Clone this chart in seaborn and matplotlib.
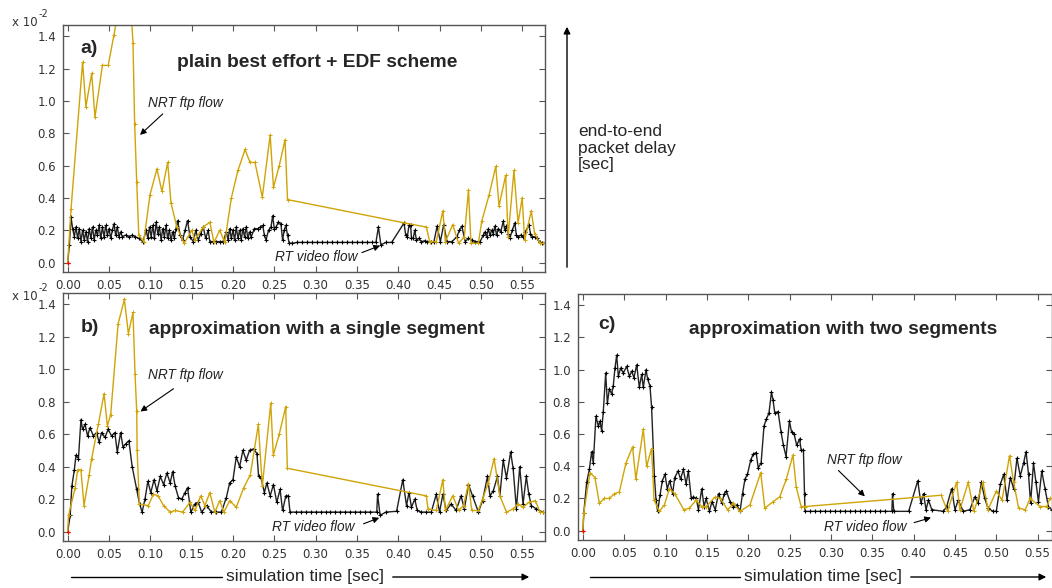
import matplotlib
matplotlib.use('Agg')
import matplotlib.pyplot as plt
from matplotlib.patches import FancyArrowPatch
from matplotlib.lines import Line2D
import seaborn as sns

# delay values are in units of 1e-2 sec (axis shows "x 10^-2")
xticks = [0.00, 0.05, 0.10, 0.15, 0.20, 0.25, 0.30, 0.35, 0.40, 0.45, 0.50, 0.55]
yticks = [0.0, 0.2, 0.4, 0.6, 0.8, 1.0, 1.2, 1.4]

titles = ['plain best effort + EDF scheme',
          'approximation with a single segment',
          'approximation with two segments']
panel_tags = ['a)', 'b)', 'c)']

# ---- panel a: plain best effort + EDF
a_nrt_t = [0.000, 0.004, 0.018, 0.022, 0.029, 0.033, 0.042, 0.049, 0.056, 0.062, 0.070, 0.076,
           0.079, 0.081, 0.0835, 0.086, 0.092, 0.0996, 0.108, 0.114, 0.121, 0.125, 0.132, 0.141,
           0.150, 0.154, 0.164, 0.172, 0.177, 0.184, 0.190, 0.198, 0.206, 0.2146, 0.2206, 0.2266,
           0.2355, 0.245, 0.249, 0.256, 0.263, 0.266, 0.408, 0.434, 0.438, 0.446, 0.454, 0.457,
           0.466, 0.473, 0.480, 0.485, 0.488, 0.497, 0.501, 0.510, 0.518, 0.522, 0.530, 0.533,
           0.540, 0.545, 0.550, 0.553, 0.561, 0.565, 0.5716, 0.575]
a_nrt_v = [0.00, 0.33, 1.24, 0.965, 1.17, 0.90, 1.22, 1.22, 1.41, 1.58, 1.70, 1.62,
           1.36, 0.86, 0.50, 0.17, 0.13, 0.42, 0.58, 0.44, 0.62, 0.37, 0.22, 0.12,
           0.20, 0.14, 0.22, 0.25, 0.125, 0.20, 0.125, 0.40, 0.57, 0.70, 0.62, 0.62,
           0.405, 0.79, 0.465, 0.60, 0.76, 0.39, 0.245, 0.22, 0.13, 0.13, 0.32, 0.13,
           0.235, 0.12, 0.16, 0.45, 0.12, 0.12, 0.255, 0.42, 0.595, 0.35, 0.54, 0.16,
           0.57, 0.245, 0.40, 0.14, 0.32, 0.18, 0.12, 0.12]

a_rt_t = [0.000, 0.002, 0.004, 0.006, 0.008, 0.010, 0.012, 0.014, 0.016, 0.018, 0.020, 0.022,
          0.024, 0.026, 0.028, 0.030, 0.032, 0.034, 0.036, 0.038, 0.040, 0.042, 0.044, 0.046,
          0.048, 0.050, 0.052, 0.054, 0.056, 0.058, 0.060, 0.062, 0.064, 0.066, 0.070, 0.074,
          0.078, 0.082, 0.086, 0.091, 0.095, 0.097, 0.099, 0.101, 0.103, 0.105, 0.107, 0.109,
          0.111, 0.113, 0.115, 0.117, 0.119, 0.121, 0.123, 0.125, 0.127, 0.129, 0.131, 0.133,
          0.136, 0.139, 0.142, 0.145, 0.148, 0.152, 0.155, 0.158, 0.161, 0.164, 0.167, 0.170,
          0.172, 0.176, 0.180, 0.184, 0.188, 0.192, 0.194, 0.196, 0.198, 0.200, 0.202, 0.204,
          0.206, 0.208, 0.210, 0.212, 0.214, 0.216, 0.218, 0.220, 0.222, 0.226, 0.230, 0.233,
          0.236, 0.238, 0.240, 0.243, 0.246, 0.248, 0.250, 0.252, 0.255, 0.258, 0.260, 0.262,
          0.264, 0.266, 0.268, 0.272, 0.278, 0.284, 0.290, 0.296, 0.302, 0.308, 0.314, 0.320,
          0.326, 0.332, 0.338, 0.344, 0.350, 0.356, 0.362, 0.368, 0.373, 0.376, 0.379, 0.385,
          0.392, 0.407, 0.409, 0.411, 0.413, 0.415, 0.416, 0.418, 0.420, 0.422, 0.425, 0.428,
          0.432, 0.435, 0.440, 0.443, 0.447, 0.451, 0.455, 0.459, 0.465, 0.471, 0.474, 0.477,
          0.481, 0.485, 0.489, 0.493, 0.499, 0.503, 0.505, 0.507, 0.509, 0.511, 0.513, 0.515,
          0.517, 0.519, 0.521, 0.524, 0.527, 0.529, 0.531, 0.533, 0.535, 0.538, 0.541, 0.543,
          0.545, 0.548, 0.551, 0.554, 0.558, 0.560, 0.562, 0.565, 0.568, 0.571, 0.574, 0.577]
a_rt_v = [0.00, 0.11, 0.28, 0.21, 0.16, 0.22, 0.15, 0.21, 0.13, 0.20, 0.14, 0.19,
          0.13, 0.21, 0.15, 0.22, 0.14, 0.20, 0.17, 0.23, 0.15, 0.22, 0.16, 0.23,
          0.17, 0.21, 0.15, 0.20, 0.24, 0.17, 0.22, 0.16, 0.19, 0.16, 0.17, 0.16,
          0.17, 0.16, 0.15, 0.13, 0.20, 0.15, 0.22, 0.16, 0.23, 0.15, 0.25, 0.18,
          0.22, 0.14, 0.21, 0.16, 0.23, 0.15, 0.20, 0.14, 0.19, 0.15, 0.21, 0.26,
          0.17, 0.14, 0.20, 0.26, 0.16, 0.13, 0.20, 0.14, 0.18, 0.22, 0.15, 0.20,
          0.13, 0.13, 0.13, 0.13, 0.13, 0.19, 0.14, 0.21, 0.15, 0.20, 0.14, 0.22,
          0.15, 0.20, 0.14, 0.21, 0.16, 0.22, 0.15, 0.19, 0.16, 0.21, 0.21, 0.22,
          0.23, 0.17, 0.14, 0.20, 0.22, 0.29, 0.21, 0.22, 0.25, 0.24, 0.14, 0.20,
          0.23, 0.17, 0.12, 0.12, 0.125, 0.125, 0.125, 0.125, 0.125, 0.125, 0.125, 0.125,
          0.125, 0.125, 0.125, 0.125, 0.125, 0.125, 0.125, 0.125, 0.125, 0.22, 0.11, 0.125,
          0.125, 0.245, 0.17, 0.16, 0.23, 0.23, 0.15, 0.15, 0.20, 0.14, 0.15, 0.13,
          0.135, 0.13, 0.125, 0.125, 0.225, 0.13, 0.235, 0.13, 0.13, 0.16, 0.20, 0.225,
          0.13, 0.15, 0.14, 0.13, 0.13, 0.17, 0.19, 0.16, 0.21, 0.17, 0.20, 0.18,
          0.225, 0.17, 0.21, 0.19, 0.255, 0.20, 0.225, 0.18, 0.15, 0.20, 0.245, 0.17,
          0.16, 0.17, 0.16, 0.19, 0.235, 0.18, 0.16, 0.16, 0.15, 0.13, 0.12, 0.12]

# ---- panel b: single segment approximation
b_nrt_t = [0.000, 0.001, 0.009, 0.012, 0.016, 0.0197, 0.026, 0.029, 0.037, 0.044, 0.048, 0.052,
           0.061, 0.0686, 0.0734, 0.079, 0.0815, 0.0835, 0.084, 0.0867, 0.0976, 0.1036, 0.1094,
           0.116, 0.124, 0.130, 0.139, 0.148, 0.154, 0.161, 0.166, 0.172, 0.178, 0.184, 0.189,
           0.196, 0.204, 0.213, 0.221, 0.2307, 0.2355, 0.2457, 0.2488, 0.256, 0.2638, 0.2658,
           0.434, 0.436, 0.446, 0.454, 0.457, 0.466, 0.473, 0.479, 0.485, 0.489, 0.497, 0.502,
           0.509, 0.516, 0.523, 0.531, 0.539, 0.545, 0.551, 0.558, 0.566, 0.5716, 0.575]
b_nrt_v = [0.00, 0.10, 0.27, 0.38, 0.38, 0.16, 0.35, 0.45, 0.66, 0.85, 0.65, 0.72,
           1.28, 1.43, 1.22, 1.35, 0.97, 0.74, 0.50, 0.17, 0.16, 0.23, 0.22,
           0.16, 0.12, 0.13, 0.12, 0.18, 0.13, 0.22, 0.16, 0.24, 0.12, 0.19, 0.12,
           0.19, 0.15, 0.27, 0.35, 0.66, 0.28, 0.79, 0.47, 0.60, 0.77, 0.39,
           0.22, 0.14, 0.13, 0.32, 0.13, 0.22, 0.13, 0.16, 0.295, 0.13, 0.13, 0.20,
           0.30, 0.45, 0.22, 0.12, 0.14, 0.17, 0.15, 0.18, 0.19, 0.12, 0.12]

b_rt_t = [0.000, 0.003, 0.005, 0.008, 0.010, 0.013, 0.016, 0.018, 0.021, 0.024, 0.027, 0.031,
          0.035, 0.038, 0.041, 0.045, 0.049, 0.053, 0.057, 0.060, 0.064, 0.067, 0.070, 0.074,
          0.078, 0.0835, 0.087, 0.090, 0.0935, 0.097, 0.1005, 0.1045, 0.108, 0.112, 0.116, 0.120,
          0.124, 0.127, 0.130, 0.134, 0.138, 0.142, 0.145, 0.149, 0.154, 0.158, 0.162, 0.168,
          0.174, 0.180, 0.186, 0.192, 0.196, 0.200, 0.204, 0.208, 0.212, 0.216, 0.220, 0.225,
          0.229, 0.231, 0.234, 0.238, 0.241, 0.245, 0.249, 0.253, 0.257, 0.260, 0.264, 0.267,
          0.269, 0.276, 0.282, 0.288, 0.294, 0.300, 0.306, 0.312, 0.318, 0.324, 0.330, 0.336,
          0.342, 0.348, 0.354, 0.360, 0.366, 0.374, 0.375, 0.378, 0.385, 0.398, 0.4055, 0.410,
          0.413, 0.416, 0.420, 0.423, 0.428, 0.434, 0.440, 0.446, 0.450, 0.454, 0.458, 0.464,
          0.470, 0.476, 0.480, 0.485, 0.490, 0.497, 0.502, 0.508, 0.511, 0.515, 0.520, 0.523,
          0.527, 0.531, 0.536, 0.539, 0.543, 0.547, 0.551, 0.555, 0.558, 0.561, 0.567, 0.575]
b_rt_v = [0.00, 0.10, 0.28, 0.38, 0.47, 0.45, 0.69, 0.63, 0.66, 0.59, 0.64, 0.59,
          0.61, 0.55, 0.61, 0.58, 0.63, 0.59, 0.61, 0.49, 0.61, 0.52, 0.54, 0.56,
          0.40, 0.26, 0.17, 0.12, 0.20, 0.31, 0.24, 0.32, 0.25, 0.34, 0.29, 0.36,
          0.30, 0.37, 0.28, 0.21, 0.20, 0.24, 0.27, 0.12, 0.17, 0.18, 0.12, 0.16,
          0.12, 0.12, 0.12, 0.21, 0.30, 0.32, 0.46, 0.40, 0.50, 0.44, 0.50, 0.51,
          0.48, 0.34, 0.33, 0.24, 0.30, 0.22, 0.29, 0.18, 0.26, 0.13, 0.22, 0.22,
          0.12, 0.12, 0.12, 0.12, 0.12, 0.12, 0.12, 0.12, 0.12, 0.12, 0.12, 0.12,
          0.12, 0.12, 0.12, 0.12, 0.12, 0.12, 0.23, 0.10, 0.12, 0.125, 0.32, 0.16,
          0.24, 0.15, 0.20, 0.13, 0.12, 0.12, 0.12, 0.23, 0.12, 0.23, 0.13, 0.17,
          0.13, 0.22, 0.14, 0.29, 0.22, 0.12, 0.19, 0.34, 0.22, 0.25, 0.34, 0.22,
          0.44, 0.33, 0.49, 0.39, 0.14, 0.40, 0.17, 0.34, 0.23, 0.16, 0.14, 0.12]

# ---- panel c: two segment approximation
c_nrt_t = [0.000, 0.001, 0.0085, 0.0145, 0.0198, 0.026, 0.032, 0.038, 0.044, 0.052, 0.060, 0.064,
           0.073, 0.077, 0.083, 0.086, 0.0924, 0.0985, 0.1045, 0.111, 0.122, 0.1287, 0.137,
           0.1437, 0.149, 0.160, 0.166, 0.175, 0.182, 0.190, 0.202, 0.215, 0.220, 0.230, 0.238,
           0.246, 0.254, 0.258, 0.264, 0.269, 0.4334, 0.441, 0.452, 0.456, 0.466, 0.473, 0.484,
           0.490, 0.500, 0.507, 0.516, 0.521, 0.527, 0.535, 0.541, 0.553, 0.561, 0.565]
c_nrt_v = [0.00, 0.11, 0.36, 0.33, 0.17, 0.20, 0.20, 0.23, 0.24, 0.42, 0.52, 0.32,
           0.63, 0.40, 0.51, 0.19, 0.12, 0.16, 0.26, 0.23, 0.13, 0.14, 0.19,
           0.15, 0.15, 0.21, 0.20, 0.13, 0.17, 0.12, 0.16, 0.36, 0.14, 0.18, 0.21,
           0.32, 0.47, 0.27, 0.15, 0.15, 0.22, 0.12, 0.30, 0.13, 0.30, 0.12, 0.30,
           0.13, 0.245, 0.19, 0.465, 0.30, 0.14, 0.13, 0.20, 0.15, 0.15, 0.20]

c_rt_t = [0.000, 0.001, 0.0045, 0.0077, 0.0105, 0.0125, 0.0157, 0.0186, 0.0206, 0.0226, 0.0246,
          0.0275, 0.0295, 0.0319, 0.0347, 0.0367, 0.0387, 0.0408, 0.0428, 0.0456, 0.0488, 0.0529,
          0.0561, 0.059, 0.0617, 0.065, 0.0682, 0.071, 0.073, 0.0763, 0.0783, 0.081, 0.083,
          0.0864, 0.0884, 0.0904, 0.0932, 0.096, 0.0992, 0.102, 0.105, 0.1085, 0.111, 0.115,
          0.118, 0.1215, 0.1247, 0.1275, 0.131, 0.1335, 0.137, 0.1397, 0.1437, 0.1465, 0.149,
          0.153, 0.156, 0.160, 0.164, 0.168, 0.171, 0.1735, 0.178, 0.182, 0.186, 0.190, 0.193,
          0.196, 0.199, 0.203, 0.206, 0.2095, 0.212, 0.2155, 0.219, 0.222, 0.225, 0.228, 0.230,
          0.232, 0.236, 0.2397, 0.2425, 0.2457, 0.2497, 0.2525, 0.2554, 0.2586, 0.262, 0.264,
          0.2667, 0.268, 0.2687, 0.275, 0.281, 0.287, 0.293, 0.299, 0.305, 0.311, 0.317, 0.323,
          0.329, 0.335, 0.341, 0.347, 0.353, 0.359, 0.365, 0.3737, 0.3745, 0.376, 0.394, 0.405,
          0.4088, 0.412, 0.415, 0.418, 0.422, 0.436, 0.440, 0.446, 0.450, 0.454, 0.460, 0.468,
          0.474, 0.478, 0.482, 0.486, 0.490, 0.496, 0.500, 0.505, 0.509, 0.513, 0.517, 0.521,
          0.525, 0.529, 0.533, 0.536, 0.539, 0.5415, 0.545, 0.548, 0.551, 0.555, 0.559, 0.563,
          0.567]
c_rt_v = [0.00, 0.11, 0.30, 0.38, 0.49, 0.42, 0.71, 0.65, 0.68, 0.62, 0.74,
          0.98, 0.79, 0.88, 0.85, 0.90, 1.01, 1.09, 0.96, 1.01, 0.98, 1.02,
          0.96, 0.99, 0.95, 1.03, 0.89, 0.97, 0.89, 1.00, 0.94, 0.90, 0.77,
          0.34, 0.19, 0.12, 0.22, 0.31, 0.35, 0.26, 0.31, 0.23, 0.33, 0.37,
          0.32, 0.38, 0.29, 0.37, 0.20, 0.21, 0.20, 0.13, 0.26, 0.15, 0.20,
          0.12, 0.18, 0.13, 0.23, 0.17, 0.23, 0.245, 0.18, 0.15, 0.16, 0.12, 0.23,
          0.32, 0.35, 0.44, 0.475, 0.485, 0.39, 0.42, 0.65, 0.695, 0.73, 0.86, 0.81,
          0.73, 0.74, 0.61, 0.53, 0.46, 0.68, 0.61, 0.60, 0.53, 0.57, 0.50,
          0.50, 0.23, 0.12, 0.12, 0.12, 0.12, 0.12, 0.12, 0.12, 0.12, 0.12, 0.12,
          0.12, 0.12, 0.12, 0.12, 0.12, 0.12, 0.12, 0.12, 0.23, 0.12, 0.12, 0.31,
          0.17, 0.23, 0.13, 0.19, 0.13, 0.12, 0.15, 0.26, 0.13, 0.19, 0.12, 0.13,
          0.21, 0.17, 0.30, 0.20, 0.14, 0.12, 0.12, 0.29, 0.35, 0.19, 0.33, 0.26,
          0.45, 0.34, 0.42, 0.49, 0.35, 0.17, 0.42, 0.30, 0.18, 0.37, 0.26, 0.15,
          0.13]

GOLD = '#d0a406'
DARK = '#222222'

sns.set_style('ticks')
plt.rcParams['font.family'] = ['DejaVu Sans']

fig = plt.figure(figsize=(10.52, 5.88), dpi=100)
W, H = 1052.0, 588.0


def fx(px):
    return px / W


def fy(py):
    return 1 - py / H


boxes = [(63, 25, 545, 272), (63, 293, 545, 541), (578, 294, 1052, 540)]
xlims = [(-0.0057, 0.5776), (-0.0057, 0.5776), (-0.006, 0.5674)]
series = [(a_nrt_t, a_nrt_v, a_rt_t, a_rt_v),
          (b_nrt_t, b_nrt_v, b_rt_t, b_rt_v),
          (c_nrt_t, c_nrt_v, c_rt_t, c_rt_v)]

axes = []
for i, (l, t, r, b) in enumerate(boxes):
    ax = fig.add_axes([fx(l), fy(b), (r - l) / W, (b - t) / H])
    nt, nv, rt, rv = series[i]
    sns.lineplot(x=rt, y=rv, ax=ax, color=DARK, lw=1.0, marker='+', ms=3.5,
                 mew=0.8, mec='black', estimator=None, sort=False)
    sns.lineplot(x=nt, y=nv, ax=ax, color=GOLD, lw=1.0, marker='+', ms=3.5,
                 mew=0.7, mec=GOLD, estimator=None, sort=False)
    ax.plot([0], [0], marker='+', color='red', ms=3, mew=0.8)
    ax.set_xlim(*xlims[i])
    ax.set_ylim(-0.058, 1.47)
    ax.set_xticks(xticks)
    ax.set_xticklabels([f'{v:.2f}' for v in xticks])
    ax.set_yticks(yticks)
    ax.set_yticklabels([f'{v:.1f}' for v in yticks])
    ax.tick_params(direction='in', length=4, width=0.8, top=True, right=True,
                   labelsize=8.5, labelcolor='#333333', color='#555555', pad=5)
    for s in ax.spines.values():
        s.set_linewidth(1.0)
        s.set_color('#555555')
    ax.set_xlabel('')
    ax.set_ylabel('')
    axes.append(ax)

tag_pos = [(0.036, 0.903), (0.036, 0.859), (0.043, 0.874)]
title_pos = [(0.528, 0.85), (0.527, 0.851), (0.560, 0.857)]
for ax, tag, title, tp, ttp in zip(axes, panel_tags, titles, tag_pos, title_pos):
    ax.text(tp[0], tp[1], tag, transform=ax.transAxes, fontsize=14, fontweight='bold',
            family='Liberation Sans', ha='left', va='center')
    ax.text(ttp[0], ttp[1], title, transform=ax.transAxes, fontsize=13.8, fontweight='bold',
            family='Liberation Sans', ha='center', va='center')

# flow annotations (text position, arrow tail, arrow head) in data units
notes = [
    ('NRT ftp flow', (0.142, 0.99), (0.115, 0.92), (0.0875, 0.79)),
    ('RT video flow', (0.301, 0.037), (0.356, 0.062), (0.378, 0.105)),
    ('NRT ftp flow', (0.142, 0.966), (0.128, 0.88), (0.088, 0.74)),
    ('RT video flow', (0.297, 0.027), (0.358, 0.048), (0.377, 0.085)),
    ('NRT ftp flow', (0.340, 0.437), (0.309, 0.374), (0.341, 0.213)),
    ('RT video flow', (0.342, 0.025), (0.4007, 0.05), (0.421, 0.081)),
]
for k, (txt, tpos, tail, head) in enumerate(notes):
    ax = axes[k // 2]
    ax.text(tpos[0], tpos[1], txt, fontsize=9.8, style='italic', family='Liberation Sans',
            ha='center', va='center', color='#222222')
    ax.annotate('', xy=head, xytext=tail,
                arrowprops=dict(arrowstyle='-|>', color='black', lw=0.8, mutation_scale=9,
                                shrinkA=0, shrinkB=0))

# x 10^-2 multipliers
for ypx in (23, 297):
    fig.text(fx(12), fy(ypx), 'x 10', fontsize=8.5, color='#333333', va='center', ha='left')
    fig.text(fx(39), fy(ypx - 9), '-2', fontsize=7, color='#333333', va='center', ha='left')

# vertical delay arrow and label
fig.add_artist(FancyArrowPatch((fx(567), fy(270)), (fx(567), fy(24)), transform=fig.transFigure,
                               arrowstyle='-|>', mutation_scale=10, lw=1.0, color='black'))
fig.text(fx(578), fy(148), 'end-to-end\npacket delay\n[sec]', fontsize=12.5,
         family='Liberation Sans', ha='left', va='center', linespacing=1.1)

# time arrows
for (l0, l1, cx, a0, a1) in [(71, 222, 305, 390, 532), (590, 740, 823, 908, 1049)]:
    fig.add_artist(Line2D([fx(l0), fx(l1)], [fy(577), fy(577)], transform=fig.transFigure,
                          color='black', lw=1.0))
    fig.text(fx(cx), fy(577), 'simulation time [sec]', fontsize=12.5, family='Liberation Sans',
             ha='center', va='center')
    fig.add_artist(FancyArrowPatch((fx(a0), fy(577)), (fx(a1), fy(577)), transform=fig.transFigure,
                                   arrowstyle='-|>', mutation_scale=10, lw=1.0, color='black'))

fig.savefig('out.png', dpi=100)
